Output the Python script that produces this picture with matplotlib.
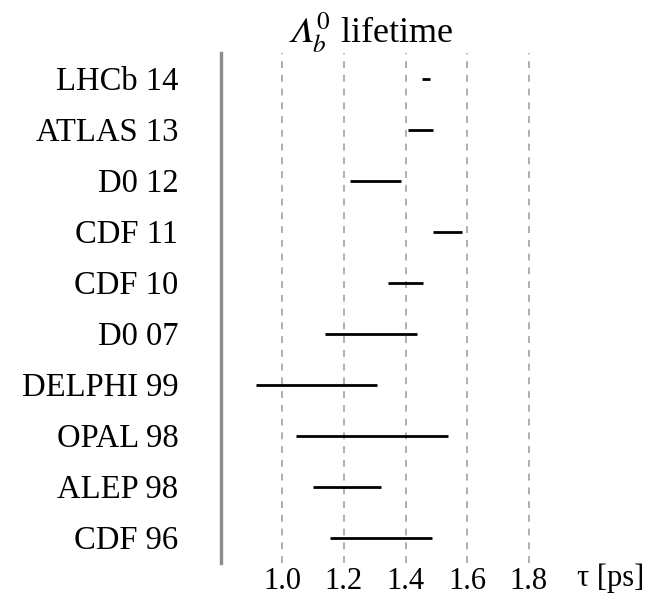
import matplotlib
matplotlib.use('Agg')
import matplotlib.pyplot as plt

# datos (de abajo hacia arriba)
experimentos = ['CDF 96', 'ALEP 98', 'OPAL 98', 'DELPHI 99', 'D0 07',
                'CDF 10', 'CDF 11', 'D0 12', 'ATLAS 13', 'LHCb 14']
tau = [1.320, 1.209, 1.290, 1.111, 1.289, 1.400, 1.537, 1.303, 1.449, 1.467]
error = [0.165, 0.110, 0.247, 0.195, 0.149, 0.057, 0.048, 0.082, 0.041, 0.013]
ticks_x = [1.0, 1.2, 1.4, 1.6, 1.8]

plt.rcParams['font.family'] = ['Liberation Serif', 'DejaVu Serif']
plt.rcParams['mathtext.fontset'] = 'stix'

W, H = 669, 600
fig = plt.figure(figsize=(W / 100, H / 100), dpi=100)
ax = fig.add_axes([220.7 / W, 37 / H, 338.8 / W, 510 / H])

posiciones = list(range(len(experimentos)))

# lineas verticales punteadas
for t in ticks_x:
    ax.axvline(t, color='#999999', lw=1.1, dashes=(4.5, 4.5), zorder=1)

ax.errorbar(tau, posiciones, xerr=error, fmt='none', ecolor='black',
            elinewidth=2.0, capsize=0, zorder=3)

ax.set_xlim(0.8, 1.9)
ax.set_ylim(-0.5, len(experimentos) - 0.5)
ax.set_xticks(ticks_x)
ax.set_xticklabels([f'{t:.1f}' for t in ticks_x], fontsize=22)
ax.set_yticks(posiciones)
ax.set_yticklabels(experimentos, fontsize=23.5)
ax.tick_params(axis='x', length=0, pad=3)
ax.tick_params(axis='y', length=0, pad=30.5)

for lado in ['top', 'right', 'bottom']:
    ax.spines[lado].set_visible(False)
ax.spines['left'].set_color('#8c8c8c')
ax.spines['left'].set_linewidth(2.4)

fig.text(611 / W, 1 - 578 / H, 'τ [ps]', ha='center', va='center', fontsize=22)
# lambda cursiva (U+1D6EC)
fig.text(370 / W, 1 - 33 / H, '$\U0001D6EC_{b}^{\\mathrm{0}}$ lifetime',
         ha='center', va='center', fontsize=26)

fig.savefig('out.png', dpi=100)
